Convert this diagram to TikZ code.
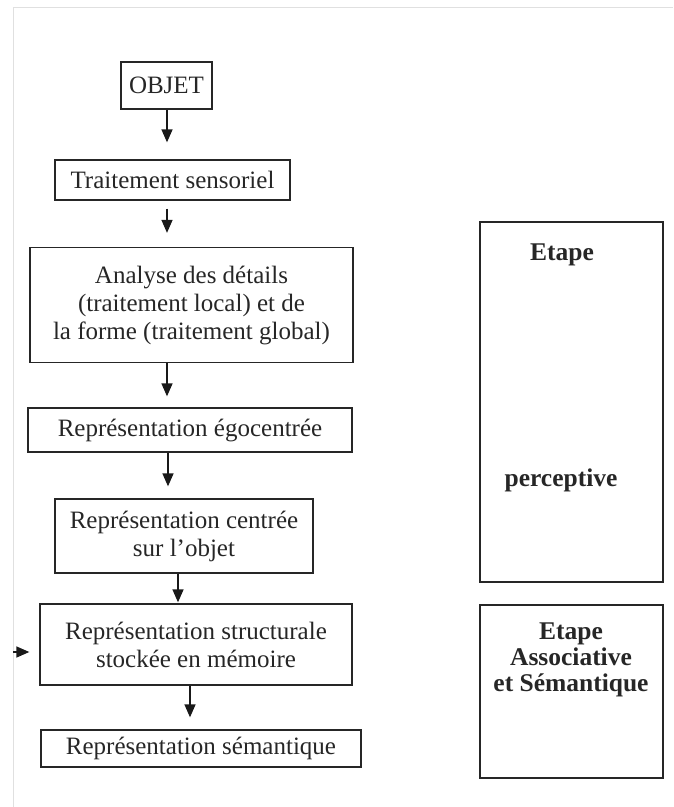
\documentclass[tikz,border=0pt]{standalone}
\usepackage{fontspec}
\setmainfont{Liberation Serif}
\usetikzlibrary{arrows.meta}
\begin{document}
\begin{tikzpicture}[x=1pt,y=-1pt,
  box/.style={draw=black!85,line width=1.3pt,inner sep=0pt,align=center,
    font=\fontsize{25}{28}\selectfont,text=black!85},
  arr/.style={line width=1.4pt,-{Triangle[length=13pt,width=11pt]},draw=black!90},
  stage/.style={font=\bfseries\fontsize{25.5}{26}\selectfont,align=center,text=black!85,inner sep=0pt},
  frame/.style={black!12,line width=1pt}
]
\useasboundingbox (0,0) rectangle (673,807);
\draw[frame] (13,807) -- (13,7) -- (673,7);

\node[box,minimum width=91pt,minimum height=47pt] (o) at (166.5,85.5) {OBJET};
\node[box,minimum width=235pt,minimum height=40pt] (t) at (172.5,180) {Traitement sensoriel};
\node[box,minimum width=323pt,minimum height=115pt] (a) at (191.5,305) {Analyse des détails\\(traitement local) et de\\la forme (traitement global)};
\node[box,minimum width=324pt,minimum height=44pt] (e) at (190,430) {Représentation égocentrée};
\node[box,minimum width=258pt,minimum height=74pt] (c) at (184,536) {Représentation centrée\\sur l’objet};
\node[box,minimum width=312pt,minimum height=81pt] (s) at (196,644.5) {Représentation structurale\\stockée en mémoire};
\node[box,minimum width=320pt,minimum height=37pt] (m) at (201,748.5) {Représentation sémantique};

\node[box,minimum width=183pt,minimum height=360pt] (p) at (571.5,402) {};
\node[box,minimum width=183pt,minimum height=173pt] (q) at (571.5,691.5) {};
\node[stage] (p1) at (562,255) {Etape};
\node[stage] (p2) at (561,480) {perceptive};
\node[stage] (q1) at (571,660) {Etape\\Associative\\et Sémantique};

\coordinate (x1) at (167,0);
\coordinate (x4) at (168,0);
\coordinate (x5) at (178,0);
\coordinate (x6) at (190,0);
\coordinate (lin) at (13,652);

\draw[arr,shorten >=17pt] (o.south -| x1) -- (t.north -| x1);
\draw[arr,shorten <=8pt,shorten >=14pt] (t.south -| x1) -- (a.north -| x1);
\draw[arr,shorten >=11pt] (a.south -| x1) -- (e.north -| x1);
\draw[arr,shorten >=12pt] (e.south -| x4) -- (c.north -| x4);
\draw[arr,shorten >=1pt] (c.south -| x5) -- (s.north -| x5);
\draw[arr,shorten >=12pt] (s.south -| x6) -- (m.north -| x6);
\draw[arr,shorten >=10pt] (lin) -- (lin -| s.west);
\end{tikzpicture}
\end{document}
